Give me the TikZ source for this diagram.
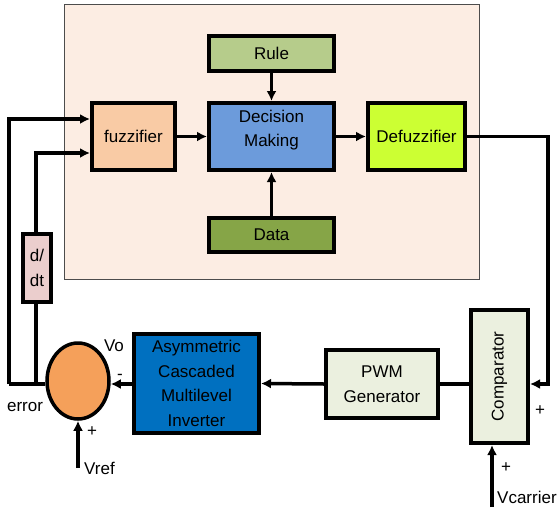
\documentclass[tikz,border=0pt]{standalone}
\usepackage{fontspec}
\setmainfont{Liberation Sans}
\usepackage{xcolor}
\usepackage{tikz}
\usetikzlibrary{calc, shapes.geometric, positioning, arrows.meta}

\definecolor{bgpeach}{HTML}{FCEDE3}
\definecolor{rulegreen}{HTML}{B6CC8B}
\definecolor{dmblue}{HTML}{6C9BDB}
\definecolor{fuzzorange}{HTML}{F9CBA5}
\definecolor{defuzzlime}{HTML}{CCFF33}
\definecolor{datagreen}{HTML}{86A547}
\definecolor{ddtpink}{HTML}{EBCECD}
\definecolor{invblue}{HTML}{0070C0}
\definecolor{sumorange}{HTML}{F5A05A}
\definecolor{pwmgrey}{HTML}{EBF0DF}

\begin{document}
\begin{tikzpicture}[x=1pt, y=-1pt, >={Latex[length=10pt,width=10pt]},
    blk/.style={draw, line width=4pt, inner sep=0pt, align=center,
        font=\fontsize{17}{24.5}\selectfont},
    link/.style={line width=3.5pt},
    lbl/.style={font=\fontsize{17}{20}\selectfont, inner sep=0pt}]
    \useasboundingbox (0,0) rectangle (560,517);

    % 1. Nen cua bo dieu khien mo
    \fill[bgpeach, draw=black!70, line width=1pt] (64,4) rectangle (479,279);

    % 2. Cac khoi
    \node[blk, fill=fuzzorange, minimum width=83pt, minimum height=67pt] (fuzz) at (133.5,136.5) {fuzzifier};
    \node[blk, fill=dmblue, minimum width=125pt, minimum height=67pt] (dm) at (271.5,136.5) {Decision\\Making\\[-8.5pt]};
    \node[blk, fill=rulegreen, minimum width=125pt, minimum height=35pt] (rule) at (271.5,53.5) {Rule};
    \node[blk, fill=datagreen, minimum width=125pt, minimum height=34pt] (data) at (271.5,235) {Data};
    \node[blk, fill=defuzzlime, minimum width=97pt, minimum height=67pt] (defuzz) at (416.5,136.5) {Defuzzifier};
    \node[blk, fill=ddtpink, minimum width=28pt, minimum height=68pt] (ddt) at (37,268) {d/\\dt};
    \node[blk, fill=pwmgrey, minimum width=57pt, minimum height=133pt] (comp) at (499.5,376.5) {\rotatebox{90}{Comparator}};
    \node[blk, fill=pwmgrey, minimum width=112pt, minimum height=68pt] (pwm) at (382,384) {PWM\\Generator};
    \node[blk, fill=invblue, minimum width=125pt, minimum height=99pt] (inv) at (196.5,383.5) {Asymmetric\\Cascaded\\Multilevel\\Inverter};
    \node[draw, ellipse, line width=3.5pt, fill=sumorange, minimum width=62pt, minimum height=76pt, inner sep=0pt] (sum) at (78,381) {};

    % 3. Cac diem phu
    \coordinate (loopA) at (9,384);
    \coordinate (loopB) at (36,384);
    \coordinate (turn) at (548,136.5);
    \coordinate (compin) at (comp.east |- 0,384);
    \coordinate (vref) at (78,468);
    \coordinate (vcar) at (492,507);

    % 4. Ket noi
    \draw[link, ->] (rule) -- (dm);
    \draw[link, ->] (data) -- (dm);
    \draw[link, ->] (fuzz) -- (dm);
    \draw[link, ->] (dm) -- (defuzz);
    \draw[link, ->] (defuzz.east) -- (turn) |- (compin);
    \draw[link] (pwm.east) -- (pwm.east -| comp.west);
    \draw[link, ->] (pwm.west) -- (inv.east);
    \draw[link, ->] (inv.west |- 0,384) -- (sum.east |- 0,384);
    \draw[link] (sum.west |- 0,384) -- (loopA);
    \draw[link, ->] (loopA) |- (fuzz.west |- 0,119);
    \draw[link] (loopB) -- (ddt.south -| loopB);
    \draw[link, ->] (ddt.north -| loopB) |- (fuzz.west |- 0,153);
    \draw[link, ->] (vref) -- (sum.south);
    \draw[link, ->] (vcar) -- (vcar |- comp.south);

    % 5. Nhan
    \node[lbl] (vo) at (114,346) {Vo};
    \node[lbl] (minus) at (120,377) {-};
    \node[lbl] (err) at (25,407) {error};
    \node[lbl] (plusA) at (92,432) {+};
    \node[lbl, anchor=west] (vreflbl) at (84,468) {Vref};
    \node[lbl] (plusB) at (540,411) {+};
    \node[lbl] (plusC) at (506,468) {+};
    \node[lbl, anchor=west] (vcarlbl) at (497,497) {Vcarrier};
\end{tikzpicture}
\end{document}
